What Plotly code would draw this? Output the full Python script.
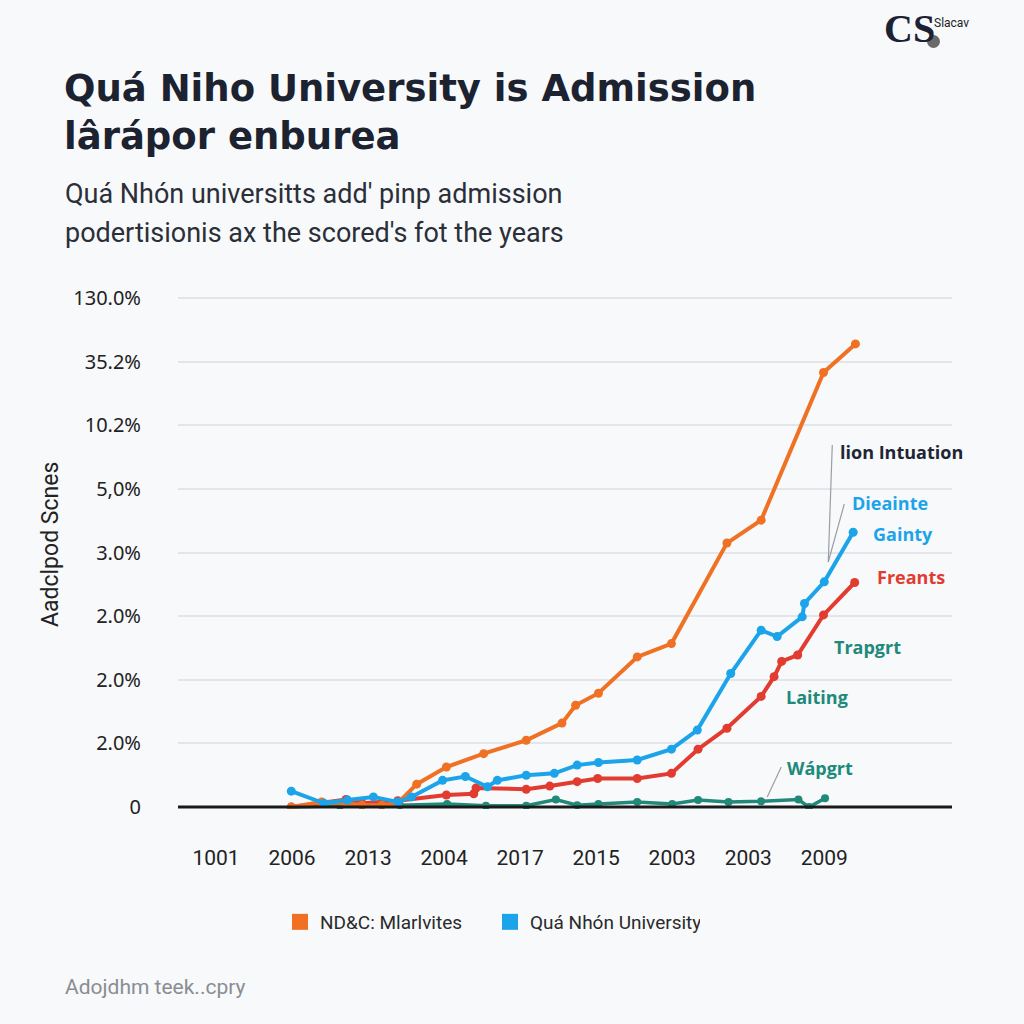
import plotly.graph_objects as go

# ---- data ----
x_ticks = [0, 1, 2, 3, 4, 5, 6, 7, 8]
x_labels = ["1001", "2006", "2013", "2004", "2017", "2015", "2003", "2003", "2009"]
y_ticks = [0, 1, 2, 3, 4, 5, 6, 7, 8]
y_labels = ["0", "2.0%", "2.0%", "2.0%", "3.0%", "5,0%", "10.2%", "35.2%", "130.0%"]

orange_x = [0.99, 1.39, 1.71, 1.92, 2.18, 2.39, 2.64, 3.03, 3.52, 4.08, 4.55, 4.73, 5.03, 5.54, 5.99, 6.72, 7.17, 7.99, 8.41]
orange_y = [0.00, 0.08, 0.06, 0.03, 0.03, 0.06, 0.36, 0.63, 0.84, 1.05, 1.32, 1.60, 1.79, 2.36, 2.57, 4.15, 4.51, 6.83, 7.28]

blue_x = [0.99, 1.42, 1.73, 2.07, 2.39, 2.57, 2.98, 3.28, 3.57, 3.70, 4.08, 4.45, 4.75, 5.03, 5.54, 5.99, 6.33, 6.77, 7.17, 7.38, 7.71, 7.74, 8.00, 8.38]
blue_y = [0.25, 0.06, 0.11, 0.16, 0.08, 0.16, 0.42, 0.48, 0.32, 0.42, 0.50, 0.53, 0.66, 0.70, 0.74, 0.91, 1.21, 2.10, 2.78, 2.68, 2.99, 3.20, 3.54, 4.32]

red_x = [0.99, 1.71, 1.92, 2.39, 3.03, 3.39, 3.42, 4.08, 4.39, 4.75, 5.02, 5.54, 5.99, 6.34, 6.72, 7.17, 7.34, 7.44, 7.65, 7.99, 8.40]
red_y = [0.00, 0.12, 0.06, 0.10, 0.19, 0.21, 0.30, 0.28, 0.33, 0.40, 0.45, 0.45, 0.53, 0.91, 1.24, 1.74, 2.05, 2.29, 2.39, 3.02, 3.53]

teal_x = [0.99, 1.63, 2.42, 3.04, 3.55, 4.08, 4.47, 4.75, 5.03, 5.54, 6.00, 6.34, 6.74, 7.17, 7.66, 7.80, 8.01]
teal_y = [0.00, 0.02, 0.03, 0.05, 0.02, 0.02, 0.12, 0.03, 0.05, 0.08, 0.05, 0.11, 0.08, 0.09, 0.12, 0.00, 0.14]

legend_names = ["ND&C: Mlarlvites", "Quá Nhón University"]

ORANGE = "#f07124"
BLUE = "#1ca4ea"
RED = "#e23c30"
TEAL = "#21897a"
DARK = "#1c2230"

# plot area in figure pixels
L, R, T, B = 178, 952, 293, 809


def fx(px):
    return (px - L) / (R - L)


def fy(py):
    return (B - py) / (B - T)


fig = go.Figure()


def add_line(xs, ys, color, width=4, msize=9):
    fig.add_trace(go.Scatter(
        x=xs, y=ys, mode="lines+markers", showlegend=False,
        line=dict(color=color, width=width),
        marker=dict(color=color, size=msize), hoverinfo="skip"))


add_line(teal_x, teal_y, TEAL, 3.5, 8)
add_line(red_x, red_y, RED)
add_line(orange_x, orange_y, ORANGE)
add_line(blue_x, blue_y, BLUE)

# legend-only entries
for name, col in zip(legend_names, [ORANGE, BLUE]):
    fig.add_trace(go.Scatter(
        x=[None], y=[None], mode="markers", name=name,
        marker=dict(symbol="square", size=22, color=col)))

# zero line
fig.add_shape(type="line", xref="paper", yref="y", x0=0, x1=1, y0=0, y1=0,
              line=dict(color="#1a1a1a", width=3))

# title (two lines in one text block)
fig.add_annotation(text="<b>Quá Niho University is Admission<br>lârápor enburea</b>",
                   xref="paper", yref="paper", x=fx(62), y=fy(112),
                   xanchor="left", yanchor="middle", align="left", showarrow=False,
                   font=dict(size=37, color=DARK, family="DejaVu Sans"))

anns = [
    dict(text="Quá Nhón universitts add' pinp admission", x=63, y=194, size=27, color="#2b2f38", fam="Roboto"),
    dict(text="podertisionis ax the scored's fot the years", x=63, y=233, size=27, color="#2b2f38", fam="Roboto"),
    dict(text="Adojdhm teek..cpry", x=63, y=987, size=21, color="#8a8d93", fam="Roboto"),
    dict(text="Slacav", x=932, y=23, size=12, color="#222", fam="Roboto"),
]
for a in anns:
    fig.add_annotation(text=a["text"], xref="paper", yref="paper",
                       x=fx(a["x"]), y=fy(a["y"]),
                       xanchor="left", yanchor="middle", showarrow=False,
                       font=dict(size=a["size"], color=a["color"], family=a["fam"]))

# logo
fig.add_annotation(text="<b>CS</b>", xref="paper", yref="paper", x=fx(882), y=fy(28),
                   xanchor="left", yanchor="middle", showarrow=False,
                   font=dict(family="Liberation Serif", size=40, color="#1c2233"))
fig.add_shape(type="circle", xref="paper", yref="paper",
              x0=fx(927), x1=fx(940), y0=fy(48), y1=fy(35),
              fillcolor="#6a6a6a", line=dict(width=0))


def px2x(px):
    return (px - 216) / 76.0


def py2y(py):
    return (807 - py) / 63.6


labels = [
    ("<b>lion Intuation</b>", 838, 452, "#1e2533"),
    ("<b>Dieainte</b>", 850, 503, BLUE),
    ("<b>Gainty</b>", 871, 534, BLUE),
    ("<b>Freants</b>", 875, 577, RED),
    ("<b>Trapgrt</b>", 832, 647, TEAL),
    ("<b>Laiting</b>", 784, 697, TEAL),
    ("<b>Wápgrt</b>", 785, 768, TEAL),
]
for t, px, py, col in labels:
    fig.add_annotation(text=t, x=px2x(px), y=py2y(py), xref="x", yref="y",
                       xanchor="left", yanchor="middle", showarrow=False,
                       font=dict(size=18, color=col, family="Open Sans"))

for (x0, y0, x1, y1) in [(832, 445, 828, 562), (844, 504, 828, 562), (781, 767, 767, 797)]:
    fig.add_shape(type="line", xref="x", yref="y",
                  x0=px2x(x0), y0=py2y(y0), x1=px2x(x1), y1=py2y(y1),
                  line=dict(color="#9a9ea5", width=1.2))

fig.update_layout(
    width=1024, height=1024,
    paper_bgcolor="#f7f9fb", plot_bgcolor="#f7f9fb",
    margin=dict(l=L, r=1024 - R, t=T, b=1024 - B),
    font=dict(family="Roboto", color="#222"),
    showlegend=True,
    legend=dict(orientation="h", x=fx(280), y=fy(922),
                xanchor="left", yanchor="middle",
                font=dict(size=19, color="#2a2a2a"), bgcolor="rgba(0,0,0,0)",
                itemwidth=30, tracegroupgap=0,
                entrywidth=165, entrywidthmode="pixels"),
    xaxis=dict(range=[-0.5, 9.68], tickmode="array", tickvals=x_ticks, ticktext=x_labels,
               showgrid=False, zeroline=False, showline=False,
               ticks="outside", ticklen=30, tickcolor="rgba(0,0,0,0)",
               tickfont=dict(size=21, color="#222")),
    yaxis=dict(range=[-0.03, 8.08], tickmode="array", tickvals=y_ticks, ticktext=y_labels,
               showgrid=True, gridcolor="#e2e5e9", gridwidth=1.5, zeroline=False, showline=False,
               ticks="outside", ticklen=32, tickcolor="rgba(0,0,0,0)",
               tickfont=dict(size=20, color="#222", family="Noto Sans")),
)

# y-axis title placed as rotated annotation
fig.add_annotation(text="Aadclpod Scnes", xref="paper", yref="paper", x=fx(50), y=fy(545),
                   xanchor="center", yanchor="middle", textangle=-90, showarrow=False,
                   font=dict(size=23, color="#222", family="Roboto"))

fig.write_html("out.html", config={"displayModeBar": False},
               post_script="document.body.style.margin='0';document.documentElement.style.background='#f7f9fb';")
